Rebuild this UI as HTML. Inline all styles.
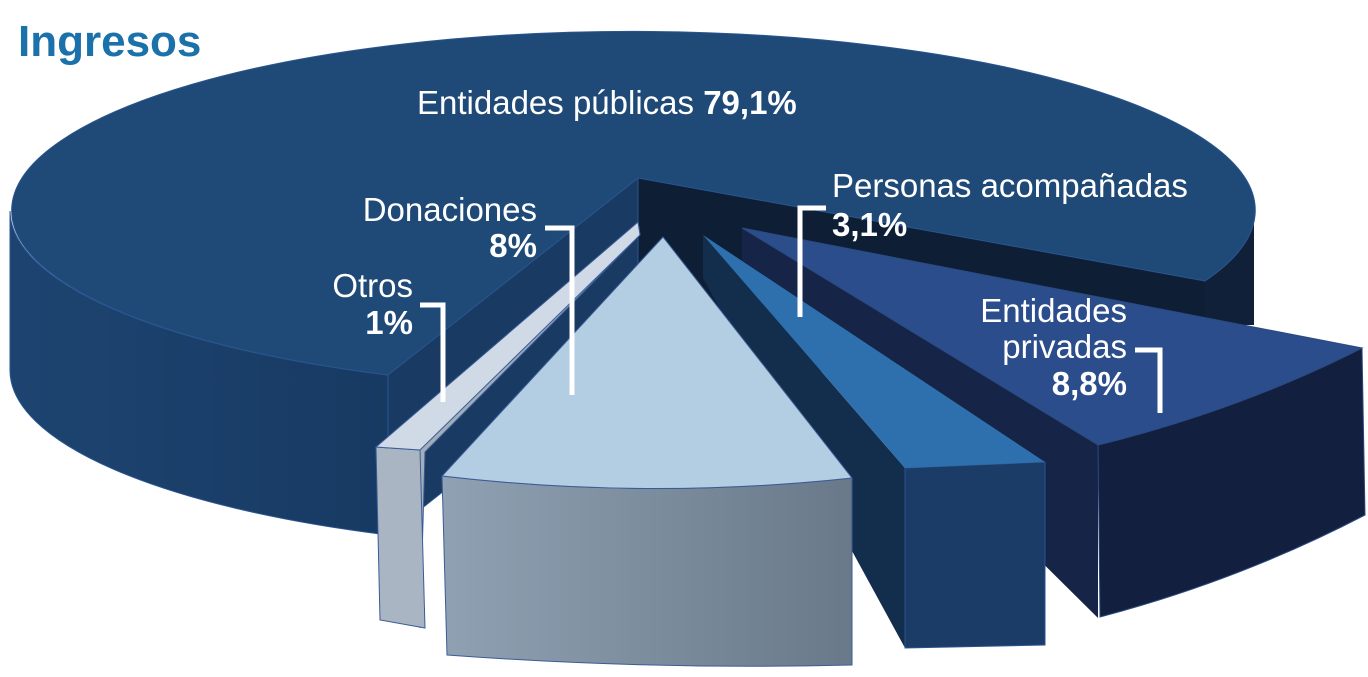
<!DOCTYPE html>
<html><head><meta charset="utf-8"><style>
body{margin:0;background:#fff;}
svg{display:block;font-family:"Liberation Sans",sans-serif;}
</style></head><body>
<svg width="1368" height="677" viewBox="0 0 1368 677" xmlns="http://www.w3.org/2000/svg">
<defs>
<linearGradient id="gd" x1="0" x2="1"><stop offset="0" stop-color="#8fa1b2"/><stop offset="1" stop-color="#69798a"/></linearGradient>
<linearGradient id="gm" x1="0" x2="1"><stop offset="0" stop-color="#1d4470"/><stop offset="1" stop-color="#173a63"/></linearGradient>
</defs>
<!-- main slice cut faces -->
<polygon points="638,178 1205,281 1205,441 638,338" fill="#0e1f35"/>
<polygon points="388,375 638,178 638,338 388,535" fill="#193a62" stroke="#2a5590" stroke-width="1"/>
<path d="M10,211 A622,179 0 0 0 388,375 L388,535 A622,179 0 0 1 10,371 Z" fill="url(#gm)" stroke="#2a5590" stroke-width="1"/>
<path d="M1254,211 A622,179 0 0 1 1205,281 L1205,325 L1254,325 Z" fill="#0f2038"/>
<path d="M638,178 L388,375 A622,179 0 1 1 1205,281 Z" fill="#1f4a77" stroke="#2a5590" stroke-width="1"/>
<!-- Entidades privadas -->
<polygon points="742,228 1098,445 1098,618 742,265" fill="#152447"/>
<path d="M1098,445 Q1240,410 1362,348 L1365,515 Q1240,580 1100,617 Z" fill="#131f3f" stroke="#2a4a80"/>
<path d="M742,228 L1362,348 Q1240,410 1098,445 Z" fill="#2b4d8c" stroke="#2a4a80"/>
<!-- Personas acompañadas -->
<polygon points="703,235 905,468 905,648 703,278" fill="#132d4d"/>
<polygon points="905,468 1045,462 1045,645 905,648" fill="#1a3c66" stroke="#2a5590"/>
<polygon points="703,235 905,468 1045,462" fill="#2e70ad"/>
<!-- Otros -->
<polygon points="638,222 640,235 425,452 420,628 415,455" fill="#a3aebb" stroke="#3a5c96"/>
<polygon points="376,447 420,450 425,628 380,620" fill="#aab5c3" stroke="#3a5c96"/>
<polygon points="638,222 376,447 420,450 640,235" fill="#d0d9e6" stroke="#3a5c96"/>
<!-- Donaciones -->
<path d="M442,476 Q647,500 852,478 L852,665 Q650,670 447,655 Z" fill="url(#gd)" stroke="#3a5c96"/>
<path d="M663,237 L442,476 Q647,500 852,478 Z" fill="#b3cde3" stroke="#3a5c96"/>
<!-- title -->
<text x="18" y="56" font-size="44" font-weight="bold" fill="#1b71a9">Ingresos</text>
<g fill="#fff" font-size="33">
<text x="417" y="114">Entidades públicas <tspan font-weight="bold">79,1%</tspan></text>
<text x="537" y="221" text-anchor="end">Donaciones</text>
<text x="537" y="257" text-anchor="end" font-weight="bold">8%</text>
<text x="413" y="297" text-anchor="end">Otros</text>
<text x="413" y="334" text-anchor="end" font-weight="bold">1%</text>
<text x="832" y="197">Personas acompañadas</text>
<text x="832" y="236" font-weight="bold">3,1%</text>
<text x="1127" y="322" text-anchor="end">Entidades</text>
<text x="1127" y="358" text-anchor="end">privadas</text>
<text x="1127" y="395" text-anchor="end" font-weight="bold">8,8%</text>
</g>
<g fill="none" stroke="#fff" stroke-width="5">
<polyline points="545,228 572,228 572,395"/>
<polyline points="420,305 443,305 443,402"/>
<polyline points="826,208 800,208 800,317"/>
<polyline points="1135,350 1160,350 1160,413"/>
</g>
</svg>
</body></html>
